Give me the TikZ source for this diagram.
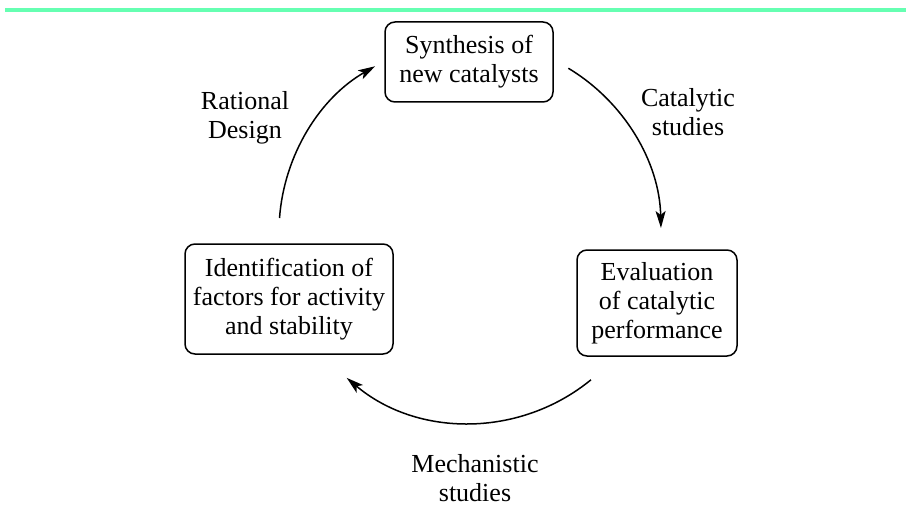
\documentclass[tikz,border=0pt]{standalone}
\usepackage{fontspec}
\setmainfont{Liberation Serif}
\usetikzlibrary{arrows.meta}
\definecolor{topgreen}{RGB}{102,255,178}
\begin{document}
\begin{tikzpicture}[x=1pt,y=-1pt,
  stagebox/.style={draw, line width=1.5pt, rounded corners=10pt, align=center,
    font=\fontsize{26}{29}\selectfont, inner sep=0pt},
  steplabel/.style={align=center, font=\fontsize{26}{29}\selectfont, inner sep=0pt},
  cyclearrow/.style={line width=1.5pt, -{Stealth[length=17pt,width=10pt,inset=4pt]}}]
\useasboundingbox (0,0) rectangle (906,519);
\fill[topgreen] (5,8.5) rectangle (906,12.5);
\node[stagebox, minimum width=168pt, minimum height=80pt] (syn) at (469,62) {Synthesis of\\new catalysts};
\node[stagebox, minimum width=160pt, minimum height=106pt] (eval) at (657,303) {Evaluation\\of catalytic\\performance};
\node[stagebox, minimum width=208pt, minimum height=110pt] (ident) at (289,299) {Identification of\\factors for activity\\and stability};
\node[steplabel] (rat) at (245,118) {Rational\\Design};
\node[steplabel] (cat) at (688,112) {Catalytic\\studies};
\node[steplabel] (mech) at (475,478) {Mechanistic\\studies};
\coordinate (c) at (470,232);
\coordinate (a1s) at ([shift={(59:191pt)}]c);
\coordinate (a2s) at ([shift={(-50.7:191pt)}]c);
\coordinate (a3s) at ([shift={(175.8:191pt)}]c);
\draw[cyclearrow] (a1s) arc[start angle=59, end angle=1.2, radius=191pt];
\draw[cyclearrow] (a2s) arc[start angle=-50.7, end angle=-130.2, radius=191pt];
\draw[cyclearrow] (a3s) arc[start angle=175.8, end angle=119.8, radius=191pt];
\end{tikzpicture}
\end{document}
